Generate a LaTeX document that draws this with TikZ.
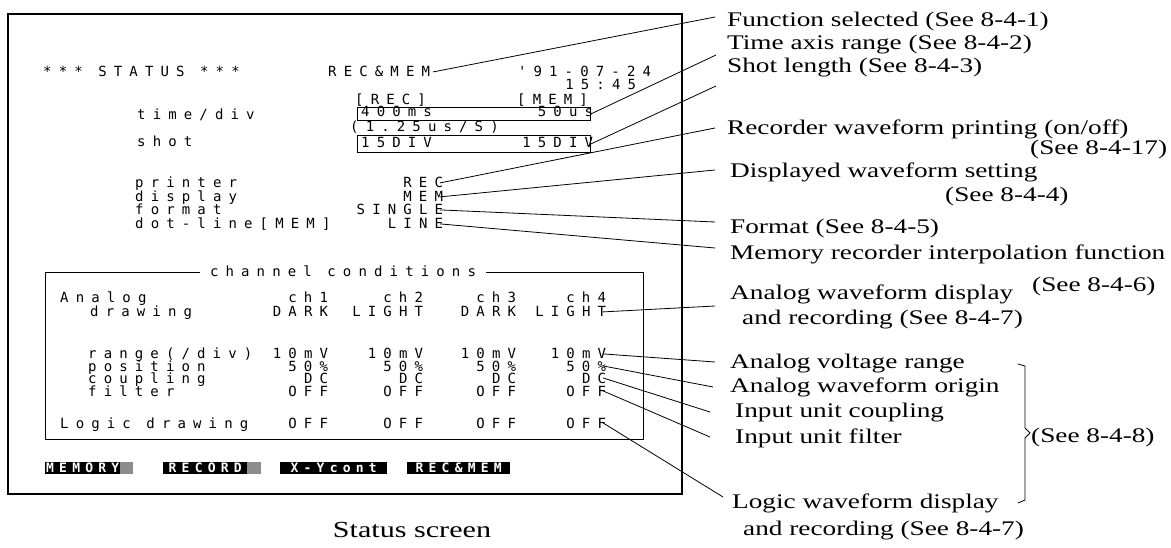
\documentclass[tikz,border=0pt]{standalone}
\usepackage{fontspec}
\newfontfamily\serifface[FakeStretch=1.31]{Liberation Serif}
\newfontfamily\screenface[LetterSpace=51]{DejaVu Sans Mono}
\newfontfamily\softface[LetterSpace=40]{DejaVu Sans Mono}
\newcommand\lblfont{\serifface\fontsize{20.8}{22}\selectfont}
\newcommand\capfont{\serifface\fontsize{23}{26}\selectfont}
\newcommand\scrfont{\screenface\fontsize{14}{15}\selectfont}
\newcommand\softfont{\softface\bfseries\fontsize{13}{13}\selectfont}

\begin{document}
\begin{tikzpicture}[x=1pt,y=-1pt,
    scr/.style={font=\scrfont, inner sep=0pt, anchor=base west},
    scrr/.style={font=\scrfont, inner sep=0pt, anchor=base east, execute at end node={\kern-6.2pt}},
    lbl/.style={font=\lblfont, inner sep=0pt, anchor=base west},
    frame/.style={line width=1.2pt},
    lead/.style={line width=0.8pt},
    valbox/.style={draw, line width=0.9pt, anchor=north west, inner sep=0pt},
    softkey/.style={fill=black, text=white, font=\softfont, anchor=west, inner sep=0pt, minimum height=12pt},
    tail/.style={fill=black!45}]
    \useasboundingbox (0,0) rectangle (1171,548);

    % Screen frame
    \draw[frame] (8,14) rectangle (682,494);

    % Header
    \node[scr] (status) at (43,77) {*** STATUS ***};
    \node[scr] (func) at (328,77) {REC\&MEM};
    \node[scrr] (date) at (645,77) {'91-07-24};
    \node[scrr] (clock) at (630,90) {15:45};
    \node[scr] (rechd) at (355,105) {[REC]};
    \node[scr] (memhd) at (517,105) {[MEM]};

    % time/div and shot
    \node[scr] (tdiv) at (137,120) {time/div};
    \node[valbox, minimum width=233pt, minimum height=13pt] (tbox) at (357,107) {};
    \node[scr] (trec) at (361,117) {400ms};
    \node[scrr] (tmem) at (587,117) {50us};
    \node[scr] (rate) at (350,132) {(1.25us/S)};
    \node[scr] (shot) at (137,147) {shot};
    \node[valbox, minimum width=233pt, minimum height=17pt] (sbox) at (357,135) {};
    \node[scr] (srec) at (361,148) {15DIV};
    \node[scrr] (smem) at (587,148) {15DIV};

    % Settings
    \node[scr] (printer) at (135,188) {printer};
    \node[scr] (display) at (135,202) {display};
    \node[scr] (format) at (135,215) {format};
    \node[scr] (dotline) at (135,229) {dot-line[MEM]};
    \node[scrr] (prval) at (437,188) {REC};
    \node[scrr] (dival) at (437,202) {MEM};
    \node[scrr] (foval) at (437,215) {SINGLE};
    \node[scrr] (dlval) at (437,229) {LINE};

    % Channel conditions
    \draw[lead] (45,272) rectangle (643,439);
    \node[scr, anchor=center, fill=white, inner xsep=10pt, inner ysep=2pt] (cond) at (343,271) {channel conditions};
    \node[scr] (analog) at (60,302) {Analog};
    \node[scr] (drawing) at (90,317) {drawing};
    \node[scr] (range) at (88,359) {range(/div)};
    \node[scr] (position) at (88,371) {position};
    \node[scr] (coupling) at (88,383) {coupling};
    \node[scr] (filter) at (88,396) {filter};
    \node[scr] (logic) at (60,428) {Logic drawing};
    \foreach \x/\n/\v in {322/1/DARK, 417/2/LIGHT, 510/3/DARK, 600/4/LIGHT} {
        \node[scrr] (ch\n) at (\x,302) {ch\n};
        \node[scrr] (drw\n) at (\x,317) {\v};
        \node[scrr] (rng\n) at (\x,359) {10mV};
        \node[scrr] (pos\n) at (\x,371) {50\%};
        \node[scrr] (cpl\n) at (\x,383) {DC};
        \node[scrr] (flt\n) at (\x,396) {OFF};
        \node[scrr] (lgc\n) at (\x,428) {OFF};
    }

    % Soft keys
    \node[softkey, minimum width=75pt] (skmem) at (45,468) {MEMORY};
    \fill[tail] (skmem.north east) rectangle ([xshift=13pt]skmem.south east);
    \node[softkey, minimum width=84pt] (skrec) at (163,468) {RECORD};
    \fill[tail] (skrec.north east) rectangle ([xshift=14pt]skrec.south east);
    \node[softkey, minimum width=107pt] (skxy) at (280,468) {X-Ycont};
    \node[softkey, minimum width=103pt] (skrm) at (407,468) {REC\&MEM};

    % Caption
    \node[font=\capfont, inner sep=0pt, anchor=base] (caption) at (412,537) {Status screen};

    % Labels
    \node[lbl] (fnlbl) at (727,27) {Function selected (See 8-4-1)};
    \node[lbl] (talbl) at (727,50) {Time axis range (See 8-4-2)};
    \node[lbl] (shlbl) at (727,73) {Shot length (See 8-4-3)};
    \node[lbl] (prlbl) at (727,135) {Recorder waveform printing (on/off)};
    \node[lbl] (prref) at (1030,155) {(See 8-4-17)};
    \node[lbl] (dilbl) at (730,178) {Displayed waveform setting};
    \node[lbl] (diref) at (945,202) {(See 8-4-4)};
    \node[lbl] (folbl) at (730,234) {Format (See 8-4-5)};
    \node[lbl] (dllbl) at (730,260) {Memory recorder interpolation function};
    \node[lbl] (dlref) at (1032,292) {(See 8-4-6)};
    \node[lbl] (adlbl) at (730,300) {Analog waveform display};
    \node[lbl] (adlbl2) at (742,325) {and recording (See 8-4-7)};
    \node[lbl] (ralbl) at (730,368) {Analog voltage range};
    \node[lbl] (polbl) at (730,392) {Analog waveform origin};
    \node[lbl] (cplbl) at (735,417) {Input unit coupling};
    \node[lbl] (filbl) at (735,443) {Input unit filter};
    \node[lbl] (cdref) at (1031,442) {(See 8-4-8)};
    \node[lbl] (lglbl) at (732,508) {Logic waveform display};
    \node[lbl] (lglbl2) at (743,535) {and recording (See 8-4-7)};

    % Leader ends
    \coordinate (fnend) at (715,17);
    \coordinate (taend) at (716,55);
    \coordinate (shend) at (716,86);
    \coordinate (prend) at (715,128);
    \coordinate (diend) at (715,170);
    \coordinate (foend) at (715,222);
    \coordinate (dlend) at (715,248);
    \coordinate (adend) at (715,306);
    \coordinate (raend) at (715,362);
    \coordinate (poend) at (713,387);
    \coordinate (cpend) at (710,412);
    \coordinate (fiend) at (710,437);
    \coordinate (lgend) at (723,497);

    % Leaders
    \draw[lead] ([xshift=3pt]func.east) -- (fnend);
    \draw[lead] (tbox.east) -- (taend);
    \draw[lead] (sbox.east) -- (shend);
    \draw[lead] ([xshift=3pt]prval.east) -- (prend);
    \draw[lead] ([xshift=3pt]dival.east) -- (diend);
    \draw[lead] ([xshift=3pt]foval.east) -- (foend);
    \draw[lead] ([xshift=3pt]dlval.east) -- (dlend);
    \draw[lead] ([xshift=3pt]drw4.east) -- (adend);
    \draw[lead] ([xshift=3pt]rng4.east) -- (raend);
    \draw[lead] ([xshift=3pt]pos4.east) -- (poend);
    \draw[lead] ([xshift=3pt]cpl4.east) -- (cpend);
    \draw[lead] ([xshift=3pt]flt4.east) -- (fiend);
    \draw[lead] ([xshift=3pt]lgc4.east) -- (lgend);

    % Bracket for 8-4-8
    \draw[lead] (1018,364) -- (1025,366) -- (1025,428) -- (1030,433) -- (1025,438) -- (1025,500) -- (1018,503);
\end{tikzpicture}
\end{document}
